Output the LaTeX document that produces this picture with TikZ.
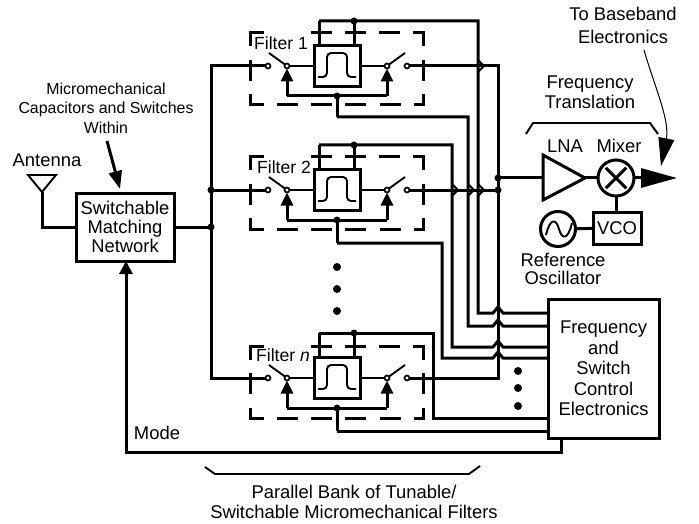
\documentclass[tikz,border=0pt]{standalone}
\usepackage{fontspec}
\setmainfont{Liberation Sans}
\usetikzlibrary{arrows.meta,calc}

\tikzset{
  wire/.style={line width=3pt},
  slimwire/.style={line width=1.9pt},
  hopwire/.style={line width=2pt},
  dashbox/.style={line width=3pt,line cap=rect,dash pattern=on 18pt off 16.3pt,dash phase=6pt},
  block/.style={draw,line width=3pt,fill=white,inner sep=0pt,outer sep=0pt,align=center},
  contact/.style={circle,draw,line width=1.7pt,fill=white,inner sep=0pt,outer sep=0pt,minimum size=5pt},
  junction/.style={circle,fill=black,inner sep=0pt,outer sep=0pt,minimum size=7pt},
  bigdot/.style={circle,fill=black,inner sep=0pt,outer sep=0pt,minimum size=8pt},
  lab/.style={inner sep=0pt,align=center,font=\fontsize{18.4}{20}\selectfont},
  smalllab/.style={inner sep=0pt,align=center,font=\fontsize{15.9}{19.5}\selectfont},
  swtip/.style={-{Triangle[length=13pt,width=12pt]}},
}

\begin{document}
\begin{tikzpicture}[x=1pt,y=-1pt]
\useasboundingbox (0,0) rectangle (699,524);

% Filter bank, one scope per filter
\foreach \yy/\nn/\lab/\lx/\dd in {66/1/{Filter 1}/281/0,190/2/{Filter 2}/284/0,378/n/{Filter \textit{n}}/283/1.5}{
\begin{scope}[shift={(0,\yy)}]
\coordinate (dnw\nn) at (250,-33+\dd);
\coordinate (dne\nn) at (423,-33+\dd);
\coordinate (dsw\nn) at (250,39+\dd);
\coordinate (dse\nn) at (423,39+\dd);
\draw[dashbox] (dnw\nn) -- (dsw\nn);
\draw[dashbox] (dsw\nn) -- (dse\nn);
\draw[dashbox] (dne\nn) -- (dse\nn);
\draw[dashbox] (dnw\nn) -- (262,-33+\dd);
\draw[dashbox,dash phase=0pt] (312,-33+\dd) -- (dne\nn);
\node[lab,font=\fontsize{17.6}{20}\selectfont] (lab\nn) at (\lx,-23) {\lab};
\node[block,minimum width=46pt,minimum height=41pt] (flt\nn) at (337,0) {};
\draw[slimwire,rounded corners=4pt] (318,11) -- (327,11) -- (327,-13) -- (347,-13) -- (347,11) -- (356,11);
\node[contact] (lc\nn) at (268,0) {};
\node[contact] (rc\nn) at (407,0) {};
\coordinate (larm\nn) at (269,-13);
\coordinate (rarm\nn) at (405,-13);
\coordinate (tap\nn) at (337,30);
\coordinate (railw\nn) at (319,-45);
\coordinate (railj\nn) at (354,-45);
\coordinate (ltr\nn) at (287,30);
\coordinate (rtr\nn) at (387,30);
\node[contact] (lp\nn) at (287,0) {};
\node[contact] (rp\nn) at (387,0) {};
\draw[wire,swtip] (ltr\nn) -- (lp\nn);
\draw[wire,swtip] (rtr\nn) -- (rp\nn);
\draw[wire] (ltr\nn) -- (rtr\nn);
\draw[slimwire] (larm\nn) -- (lp\nn);
\draw[slimwire] (rarm\nn) -- (rp\nn);
\draw[slimwire] (lp\nn) -- (flt\nn);
\draw[slimwire] (rp\nn) -- (flt\nn);
\draw[wire] (railw\nn) -- (railw\nn |- flt\nn.north);
\draw[wire] (railj\nn) -- (railj\nn |- flt\nn.north);
\node[junction] (jt\nn) at (railj\nn) {};
\node[junction] (jb\nn) at (tap\nn) {};
\end{scope}
}

% Dots between the filters
\foreach \yy in {267,289,311}{
\node[bigdot] (mid\yy) at (337,\yy) {};
}
\foreach \yy in {371,388,406}{
\node[bigdot] (rdot\yy) at (518,\yy) {};
}

% Matching network and antenna
\node[block,font=\fontsize{18.4}{19}\selectfont,minimum width=98pt,minimum height=68pt] (match) at (125,227) {Switchable\\Matching\\Network};
\coordinate (ant) at (42,192);
\draw[slimwire] (28,175) -- (56,175) -- (ant) -- cycle;
\draw[wire] (ant) |- (match.west);
\node[lab] (antlab) at (47,160) {Antenna};
\node[smalllab] (microlab) at (106,108) {Micromechanical\\Capacitors and Switches\\Within};
\coordinate (mica) at (107,141);
\coordinate (micb) at (120,189);
\draw[wire,-{Triangle[length=18pt,width=13pt]}] (mica) -- (micb);

% Input bus
\coordinate (inb1) at (211,66);
\coordinate (inb2) at (211,190);
\coordinate (inbn) at (211,378);
\draw[wire] (lc1) -- (inb1) -- (inbn) -- (lcn);
\draw[wire] (inb2) -- (lc2);
\draw[wire] (match.east) -- (match.east -| inb1);
\node[junction] (ji2) at (inb2) {};
\node[junction] (jim) at (match.east -| inb1) {};

% Control block
\node[block,minimum width=111pt,minimum height=139pt,font=\fontsize{18.4}{20.5}\selectfont] (ctrl) at (603.5,368.5) {Frequency\\and\\Switch\\Control\\Electronics};

% Output bus
\coordinate (sum) at (498,66);
\coordinate (low1) at (337,117);
\coordinate (low2) at (337,243);
\coordinate (lown) at (337,431);
\draw[wire] (rc1) -- (sum) -- (sum |- rcn) -- (rcn);
\draw[wire] (rc2) -- (sum |- rc2);
\foreach \nn in {1,2,n}{
\draw[wire] (tap\nn) -- (low\nn);
}

% Rails and tuning lines into the control block
\foreach \from/\xx/\yy in {railw1/478/313,low1/468/326,railw2/452/347,low2/442/358}{
\coordinate (bus) at (\xx,\yy);
\draw[wire] (\from) -| (bus) -- ([xshift=-5pt]bus -| sum) -- ([yshift=6pt]bus -| sum) -- ([xshift=5pt]bus -| sum) -- (bus -| ctrl.west);
}
\coordinate (busn) at (433,418);
\draw[wire] (railwn) -| (busn) -- (busn -| ctrl.west);
\draw[wire] (lown) -- (lown -| ctrl.west);

% Hops on the filter outputs
\foreach \xx/\yy in {478/66,452/190,468/190,478/190}{
\draw[hopwire] (\xx,\yy-6) -- (\xx+6,\yy) -- (\xx,\yy+6);
}

% Mode line
\coordinate (modec) at (561,452);
\coordinate (model) at (126,452);
\draw[wire,-{Triangle[length=13pt,width=13pt]}] (ctrl.south -| modec) -- (modec) -- (model) -- (model |- match.south);
\node[lab] (modelab) at (157,433) {Mode};

% Frequency translation chain
\coordinate (lnaw) at (543,178);
\coordinate (lnae) at (585,178);
\draw[wire] (543,155) -- (lnae) -- (543,200) -- cycle;
\node[block,circle,minimum size=36pt] (mix) at (616,178) {};
\draw[wire,shorten <=3.5pt,shorten >=3.5pt] (mix.45) -- (mix.225);
\draw[wire,shorten <=3.5pt,shorten >=3.5pt] (mix.135) -- (mix.315);
\node[block,minimum width=48pt,minimum height=32pt,font=\fontsize{18.4}{20}\selectfont] (vco) at (617,228) {VCO};
\node[block,circle,minimum size=35pt] (osc) at (558,229) {};
\draw[slimwire] (546,235) .. controls (550,218) and (556,218) .. (559,229) .. controls (562,240) and (568,240) .. (572,223);
\coordinate (outp) at (677,178);
\coordinate (bandp) at (644,50);
\coordinate (bande) at (661,166);
\draw[wire] (sum |- lnaw) -- (lnaw);
\draw[wire] (lnae) -- (mix);
\draw[wire] (mix) -- (vco.north -| mix);
\draw[wire] (osc) -- (vco);
\draw[wire,-{Triangle[length=36pt,width=19pt]}] (mix) -- (outp);
\draw[line width=1pt,-{Triangle[length=28pt,width=16pt]}] (bandp) .. controls (654,85) and (670,120) .. (bande);
\node[junction] (jo1) at (sum |- lnaw) {};
\node[junction] (jo2) at (sum |- rc2) {};

% Brackets
\draw[slimwire] (526,134) -- (533,123) -- (650,123) -- (658,134);
\draw[slimwire] (205,467) -- (215,474) -- (469,474) -- (480,466);

% Remaining labels
\node[lab] (bandlab) at (623,25) {To Baseband\\[3pt]Electronics};
\node[lab] (freqlab) at (590,92) {Frequency\\Translation};
\node[lab] (lnalab) at (565,146) {LNA};
\node[lab] (mixlab) at (619,146) {Mixer};
\node[lab] (osclab) at (563,269) {Reference\\[-2pt]Oscillator};
\node[lab] (banklab) at (354,502) {Parallel Bank of Tunable/\\Switchable Micromechanical Filters};

\end{tikzpicture}
\end{document}
